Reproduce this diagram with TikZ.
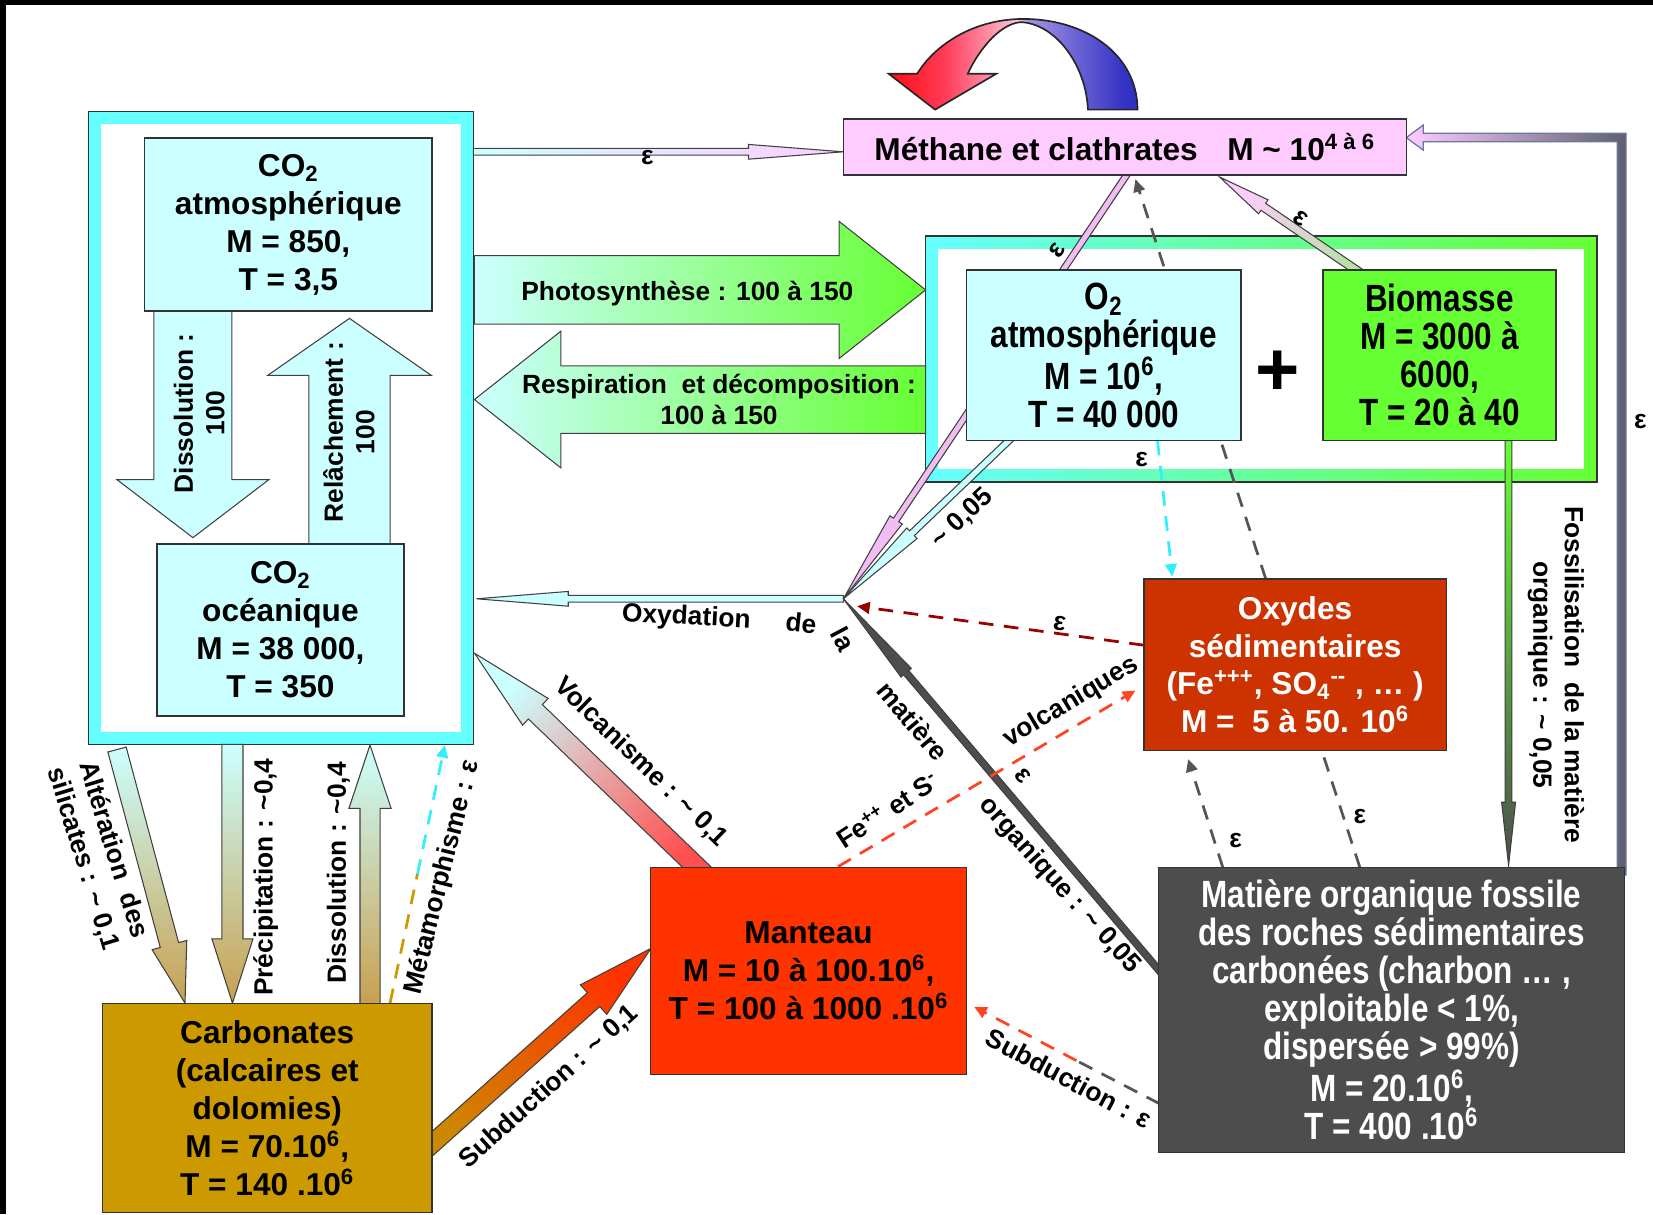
\documentclass[tikz,border=0pt]{standalone}
\usepackage{fontspec}
\setmainfont{Liberation Sans}
\newfontfamily\narrowfont[FakeStretch=0.83]{Liberation Sans}
\usetikzlibrary{calc,arrows.meta}
\definecolor{cyanframe}{HTML}{66FFFF}
\definecolor{lcyan}{HTML}{CCFFFF}
\definecolor{pinkfill}{HTML}{FFCCFF}
\definecolor{linepink}{HTML}{F2BDF2}
\definecolor{bgreen}{HTML}{66FF33}
\definecolor{oxyd}{HTML}{CC3300}
\definecolor{mant}{HTML}{FF3300}
\definecolor{matgray}{HTML}{4D4D4D}
\definecolor{carb}{HTML}{CC9900}
\definecolor{tanc}{HTML}{C8A050}
\definecolor{boxline}{HTML}{333333}
\definecolor{arrline}{HTML}{404040}
\definecolor{subgold}{HTML}{CC8800}
\definecolor{fedash}{HTML}{FF4422}
\definecolor{darkred}{HTML}{990000}
\definecolor{dashgray}{HTML}{555555}
\definecolor{dashcyan}{HTML}{33EEFF}
\definecolor{lgreen}{HTML}{B8E0A8}
\definecolor{volcred}{HTML}{FF5050}
\definecolor{cra}{HTML}{FF0000}
\definecolor{crb}{HTML}{FF3A55}
\definecolor{crc}{HTML}{FFC4DC}
\definecolor{cba}{HTML}{A494E6}
\definecolor{cbm}{HTML}{3434C4}
\definecolor{cbb}{HTML}{0000A8}
\definecolor{rgray}{HTML}{5E6070}
\definecolor{rline}{HTML}{6878A0}
\pgfdeclarehorizontalshading{curvshade}{100bp}{color(0bp)=(cra); color(22bp)=(cra); color(36bp)=(crb); color(51bp)=(crc); color(53bp)=(cba); color(72bp)=(cbm); color(100bp)=(cbb)}
\newcommand\boxfont{\fontsize{15}{18}\selectfont\bfseries}
\newcommand\nboxfont{\narrowfont\fontsize{18}{18}\selectfont\bfseries}
\newcommand\lblfont{\fontsize{12.5}{15}\selectfont\bfseries}
\newcommand\blockarrow[6]{%
  \coordinate (baA) at #2;
  \coordinate (baB) at #3;
  \coordinate (baH) at ($(baB)!#6!(baA)$);
  \path[#1] ($(baA)!#4!90:(baB)$) -- ($(baH)!#4!-90:(baA)$) -- ($(baH)!#5!-90:(baA)$) -- (baB)
     -- ($(baH)!#5!90:(baA)$) -- ($(baH)!#4!90:(baA)$) -- ($(baA)!#4!-90:(baB)$) -- cycle;
}
\begin{document}
\begin{tikzpicture}[x=0.5pt,y=-0.5pt,
  box/.style={draw=boxline, line width=0.7pt, inner sep=0pt, align=center, font=\boxfont},
  nbox/.style={box, font=\nboxfont},
  lbl/.style={font=\lblfont, inner sep=0pt, align=center},
  arr/.style={draw=arrline, line width=0.5pt},
  dsh0/.style={line width=1.3pt, dash pattern=on 7pt off 5pt},
  dsh/.style={dsh0, -{Triangle[length=6pt,width=5.5pt]}}]
\useasboundingbox (0,0) rectangle (1568,1152);
\fill[white] (0,0) rectangle (1568,1152);
\fill[black] (0,0) rectangle (1568,4.7);
\fill[black] (0,0) rectangle (5.7,1152);

% frames
\path[draw=boxline, line width=0.7pt, fill=cyanframe] (84,106) rectangle (449,706);
\fill[white] (96,118) rectangle (437,694);
\path[draw=boxline, line width=0.7pt, left color=cyanframe, right color=bgreen] (878,224) rectangle (1515,457);
\fill[white] (890,236) rectangle (1503,445);

% named points
\coordinate (X) at (800,568);

% curved arrow above methane
\path[shading=curvshade, draw=black!85, line width=0.8pt]
  (1079,104) .. controls (1079,52) and (1030,17) .. (968,18)
  .. controls (920,19) and (885,45) .. (870,70)
  -- (843,70) -- (887,104) -- (945,70) -- (918,70)
  .. controls (926,52) and (946,23) .. (968,21)
  .. controls (1000,22) and (1030,60) .. (1032,104) -- cycle;

% big arrows
\blockarrow{arr, left color=lcyan, right color=bgreen}{(450,275)}{(878,275)}{16.25pt}{32.5pt}{41pt}
\blockarrow{arr, left color=lcyan, right color=bgreen}{(878,379)}{(450,379)}{16pt}{32.4pt}{41pt}
\blockarrow{arr, fill=lcyan}{(183,295)}{(183,510)}{18.5pt}{36pt}{27.5pt}
\blockarrow{arr, fill=lcyan}{(331.5,516)}{(331.5,302)}{19.25pt}{38.75pt}{27pt}
\blockarrow{arr, left color=lcyan, right color=pinkfill}{(449,144)}{(800,144)}{1.6pt}{3.5pt}{45pt}

% lower left arrows
\blockarrow{arr, top color=lcyan, bottom color=tanc}{(111,711)}{(175.5,951.5)}{4.5pt}{8.5pt}{28.5pt}
\blockarrow{arr, top color=lcyan, bottom color=tanc}{(220.5,706)}{(220.5,951.5)}{5pt}{9.75pt}{30.5pt}
\blockarrow{arr, top color=lcyan, bottom color=tanc}{(351,952)}{(351,706.7)}{4.75pt}{10pt}{30pt}
\draw[dsh0, carb] (370,951.5) -- (396,829);
\draw[dsh, dashcyan] (396,829) -- (422,706.7);
\blockarrow{arr, bottom color=subgold, top color=mant, shading angle=-48}{(395,1098.3)}{(617.5,899.6)}{4.4pt}{9.4pt}{36.5pt}
\blockarrow{arr, bottom color=volcred, top color=lcyan, shading angle=46}{(675,836)}{(450.2,619.7)}{4.75pt}{8.75pt}{40pt}

% arrows to X
\blockarrow{arr, fill=lcyan}{(X)}{(452,568)}{1.6pt}{3.5pt}{43.5pt}
\blockarrow{arr, fill=linepink}{(1072,161)}{(X)}{1.5pt}{3.5pt}{45pt}
\blockarrow{arr, fill=lcyan}{(960,415)}{(X)}{1.6pt}{3.5pt}{45pt}
\blockarrow{arr, fill=matgray}{(1105,927)}{(X)}{1.6pt}{3.2pt}{46pt}

% dashed arrows
\draw[dsh, dashgray] (1290,823) -- (1077,170);
\draw[dsh, dashcyan] (1098,418) -- (1112,547);
\draw[dsh, darkred] (1085,612) -- (813,575);
\draw[dsh, dashgray] (1160,823) -- (1127,720);
\draw[dsh, fedash] (795,822) -- (1077,655);
\draw[dsh0, dashgray] (1100,1047) -- (1021,1006);
\draw[dsh, fedash] (1021,1006) -- (924,955);

% biomass to methane
\blockarrow{arr, bottom color=lgreen, top color=pinkfill, shading angle=56}{(1295,262)}{(1157,168)}{2pt}{4pt}{25pt}
% fossilisation
\blockarrow{arr, top color=bgreen, bottom color=matgray}{(1431,418)}{(1431,821)}{1.6pt}{3.3pt}{30pt}
% right long arrow
\path[draw=rline, line width=0.6pt, left color=pinkfill, right color=rgray]
  (1542.4,830) -- (1542.4,126.5) -- (1350,126.5) -- (1350,118.6) -- (1334,130.5)
  -- (1350,142.4) -- (1350,134.4) -- (1534,134.4) -- (1534,830) -- cycle;

% boxes
\node[box, fill=lcyan, minimum width=136.5pt, minimum height=82pt] (co2atm) at (273.5,213)
  {CO\textsubscript{2}\\atmosphérique\\M = 850,\\T = 3,5};
\node[box, fill=lcyan, minimum width=117pt, minimum height=81.5pt] (co2oc) at (266,597.5)
  {CO\textsubscript{2}\\océanique\\M = 38 000,\\T = 350};
\node[box, fill=pinkfill, minimum width=267pt, minimum height=26.5pt] (meth) at (1067,139.5)
  {Méthane et clathrates\hspace{14pt}M \textasciitilde\ 10\textsuperscript{4 à 6}};
\node[nbox, fill=lcyan, minimum width=130pt, minimum height=81pt] (o2) at (1047,337)
  {O\textsubscript{2}\\atmosphérique\\M = 10\textsuperscript{6},\\T = 40 000};
\node[nbox, fill=bgreen, minimum width=110.5pt, minimum height=81pt] (bio) at (1365.5,337)
  {Biomasse\\M = 3000 à\\6000,\\T = 20 à 40};
\node[font=\fontsize{36}{36}\selectfont\bfseries, inner sep=0pt] (plus) at (1212,354) {+};
\node[box, fill=oxyd, text=white, minimum width=143.5pt, minimum height=81.5pt] (oxy) at (1228.5,630.5)
  {Oxydes\\sédimentaires\\(Fe\textsuperscript{+++}, SO\textsubscript{4}\textsuperscript{-{}-} , … )\\M =\ \ 5 à 50. 10\textsuperscript{6}};
\node[box, fill=mant, minimum width=150pt, minimum height=98pt] (mant) at (767,921)
  {Manteau\\M = 10 à 100.10\textsuperscript{6},\\T = 100 à 1000 .10\textsuperscript{6}};
\node[nbox, fill=matgray, text=white, minimum width=221pt, minimum height=135pt] (mat) at (1320,958)
  {Matière organique fossile\\des roches sédimentaires\\carbonées (charbon … ,\\exploitable < 1\%,\\dispersée > 99\%)\\M = 20.10\textsuperscript{6},\\T = 400 .10\textsuperscript{6}};
\node[box, fill=carb, minimum width=156.5pt, minimum height=99pt] (carb) at (253.5,1051)
  {Carbonates\\(calcaires et\\dolomies)\\M = 70.10\textsuperscript{6},\\T = 140 .10\textsuperscript{6}};

% labels
\node[lbl] (l1) at (614,149) {ε};
\node[lbl] (l2) at (652,278) {Photosynthèse : 100 à 150};
\node[lbl] (l3) at (682,379) {Respiration\ \ et\ décomposition :\\100 à 150};
\node[lbl, rotate=90] (l4) at (189,392) {Dissolution :\\100};
\node[lbl, rotate=90] (l5) at (331,410) {Relâchement :\\100};
\node[lbl, rotate=56] (l6) at (1003,238) {ε};
\node[lbl, rotate=-35] (l7) at (1234,207) {ε};
\node[lbl] (l8) at (1083,436) {ε};
\node[lbl, rotate=43] (l9) at (913,492) {\textasciitilde\ 0,05};
\node[lbl, rotate=-3] (l10) at (651,586) {Oxydation};
\node[lbl, rotate=-6] (l11) at (760,591) {de};
\node[lbl, rotate=-62] (l12) at (800,606) {la};
\node[lbl, rotate=-50] (l13) at (866,684) {matière};
\node[lbl, rotate=-48] (l14) at (1005,840) {organique : \textasciitilde\ 0,05};
\node[lbl, rotate=-50] (l15) at (970,736) {ε};
\node[lbl, rotate=-8] (l16) at (1005,591) {ε};
\node[lbl, rotate=33] (l17) at (842,768) {Fe\textsuperscript{++} et S\textsuperscript{-}};
\node[lbl, rotate=31] (l18) at (1016,666) {volcaniques};
\node[lbl, rotate=-44] (l19) at (608,723) {Volcanisme : \textasciitilde\ 0,1};
\node[lbl, rotate=42] (l20) at (521,1031) {Subduction : \textasciitilde\ 0,1};
\node[lbl, rotate=-28] (l21) at (1014,1023) {Subduction : ε};
\node[lbl] (l22) at (1172,797) {ε};
\node[lbl] (l23) at (1290,775) {ε};
\node[lbl, rotate=-90] (l24) at (1476,640) {Fossilisation\ \ de la matière\\organique : \textasciitilde\ 0,05};
\node[lbl] (l25) at (1556,400) {ε};
\node[lbl, rotate=-73] (l26) at (93,810) {Altération\ \ des\\silicates : \textasciitilde\ 0,1};
\node[lbl, rotate=90] (l27) at (252,832) {Précipitation : \textasciitilde0,4};
\node[lbl, rotate=90] (l28) at (321,828) {Dissolution : \textasciitilde0,4};
\node[lbl, rotate=76] (l29) at (420,832) {Métamorphisme : ε};
\end{tikzpicture}
\end{document}
